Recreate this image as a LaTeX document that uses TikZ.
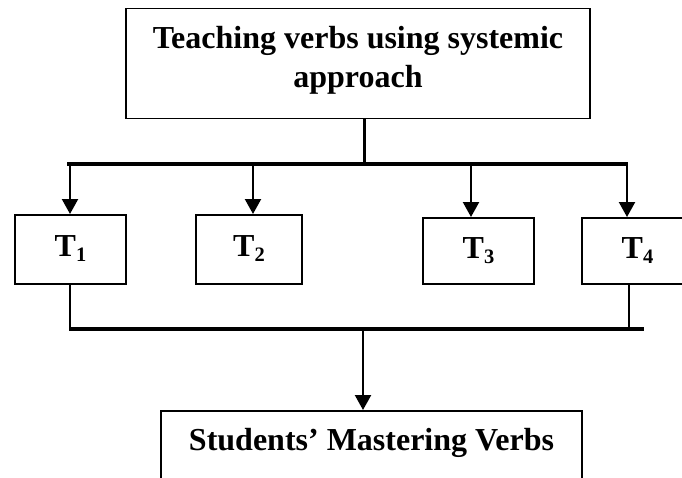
\documentclass[tikz,border=0pt]{standalone}
\usepackage{fontspec}
\setmainfont{Liberation Serif}
\usetikzlibrary{arrows.meta}
\newcommand\tsub[1]{\raisebox{-5pt}{\fontsize{20.5}{20.5}\selectfont #1}}
\begin{document}
\begin{tikzpicture}[x=1pt,y=-1pt,
  box/.style={draw, line width=1.8pt, inner sep=0pt,
    font=\bfseries\fontsize{32}{39.5}\selectfont, align=center},
  tbox/.style={draw, line width=1.8pt, anchor=north, inner xsep=0pt,
    inner ysep=20pt, text height=22pt, text depth=7pt,
    font=\bfseries\fontsize{32}{40}\selectfont},
  arr/.style={line width=2.2pt, -{Triangle[width=16pt,length=15pt]}},
  bar/.style={line width=3.6pt},
  stem/.style={line width=3pt},
  link/.style={line width=2pt}]
\useasboundingbox (0,0) rectangle (682,477);
\clip (0,0) rectangle (682,477);

% boxes
\node[box, minimum width=464pt, minimum height=110pt] (top) at (358,63.5)
  {Teaching verbs using systemic\\approach\rule[-13pt]{0pt}{13pt}};
\node[tbox, minimum width=111pt] (t1) at (70.5,214) {T\tsub{1}};
\node[tbox, minimum width=106pt] (t2) at (249,214) {T\tsub{2}};
\node[tbox, minimum width=111pt, inner ysep=19pt, text depth=6pt] (t3) at (478.5,217) {T\tsub{3}};
\node[tbox, minimum width=111pt, inner ysep=19pt, text depth=6pt] (t4) at (637.5,217) {T\tsub{4}};
\node[tbox, minimum width=421pt, inner ysep=18pt, text depth=60pt] (sv) at (371.5,410)
  {Students’ Mastering Verbs};

% upper distribution
\coordinate (j0) at (364,164);
\coordinate (bl) at (67,164);
\coordinate (br) at (628,164);
\coordinate (a1) at (70,164);
\coordinate (a2) at (253,164);
\coordinate (a3) at (471,164);
\coordinate (a4) at (627,164);
\draw[stem] (top.south -| j0) -- (j0);
\draw[bar] (bl) -- (br);
\draw[arr] (a1) -- (a1 |- t1.north);
\draw[arr] (a2) -- (a2 |- t2.north);
\draw[arr] (a3) -- (a3 |- t3.north);
\draw[arr] (a4) -- (a4 |- t4.north);

% lower collection
\coordinate (lb) at (70,329);
\coordinate (lr) at (644,329);
\coordinate (d4) at (629,329);
\coordinate (m) at (363,329);
\draw[link] (lb |- t1.south) -- (lb);
\draw[link] (d4 |- t4.south) -- (d4);
\draw[bar] ([xshift=-1pt]lb) -- (lr);
\draw[arr] (m) -- (m |- sv.north);
\end{tikzpicture}
\end{document}
